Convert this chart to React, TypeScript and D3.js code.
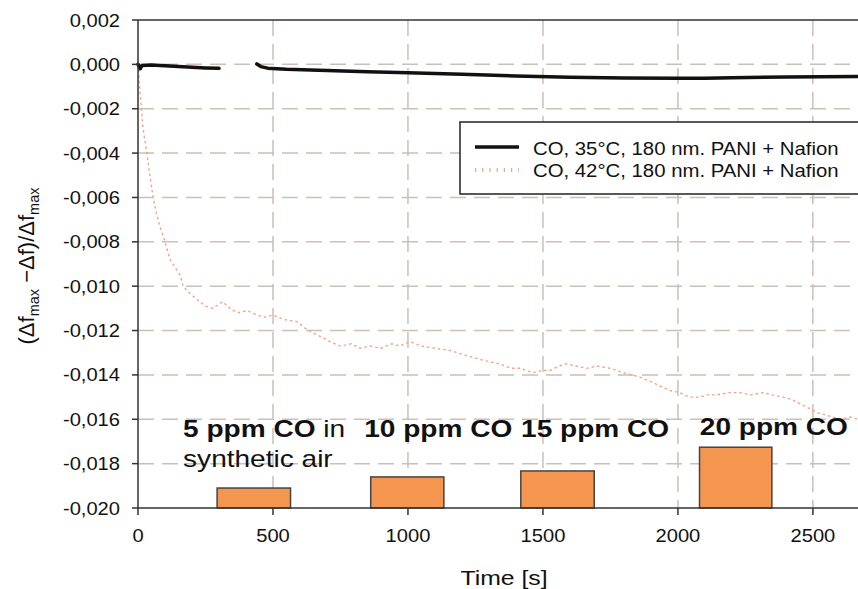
import React from 'react';
import * as d3 from 'd3';

const W = 858;
const H = 589;

// axis ticks
const xTicks = [0, 500, 1000, 1500, 2000, 2500];
const yTicks = [0.002, 0, -0.002, -0.004, -0.006, -0.008, -0.01, -0.012, -0.014, -0.016, -0.018, -0.02];

// CO, 35°C - null = gap in the record
const co35Time = [0, 8, 15, 50, 100, 150, 200, 250, 300, null, 440, 455, 480, 550, 700, 850, 1000, 1200, 1400, 1600, 1800, 2000, 2100, 2200, 2400, 2667];
const co35Value = [0, -0.0002, -0.00005, -0.00003, -0.00006, -0.0001, -0.00013, -0.00016, -0.00018, null, 0.00002, -0.0001, -0.00017, -0.00022, -0.00028, -0.00033, -0.00038, -0.00045, -0.00052, -0.00058, -0.00061, -0.00063, -0.00063, -0.0006, -0.00057, -0.00055];

// CO, 42°C
const co42Time = [0, 3, 7, 12, 18, 25, 33, 44, 56, 68, 81, 100, 119, 140, 156, 167, 190, 219, 250, 278, 300, 315, 340, 370, 404, 440, 470, 500, 540, 589, 620, 648, 680, 711, 750, 790, 822, 860, 900, 940, 970, 1007, 1050, 1100, 1156, 1210, 1267, 1300, 1341, 1380, 1415, 1463, 1500, 1526, 1560, 1589, 1620, 1663, 1700, 1748, 1796, 1830, 1859, 1900, 1933, 1970, 2007, 2040, 2081, 2110, 2144, 2190, 2230, 2270, 2315, 2350, 2389, 2420, 2452, 2485, 2515, 2545, 2574, 2605, 2637, 2667];
const co42Value = [0, -0.0003, -0.0012, -0.0019, -0.0028, -0.0034, -0.004, -0.005, -0.006, -0.0067, -0.0073, -0.008, -0.0088, -0.0092, -0.0095, -0.01, -0.0103, -0.0106, -0.0109, -0.011, -0.0108, -0.0107, -0.011, -0.0112, -0.0111, -0.0113, -0.0114, -0.0113, -0.0115, -0.0116, -0.0119, -0.0121, -0.0123, -0.0125, -0.0127, -0.0126, -0.0128, -0.0127, -0.0128, -0.0126, -0.0127, -0.0125, -0.0127, -0.0128, -0.0129, -0.0131, -0.0133, -0.0134, -0.0135, -0.0137, -0.0137, -0.0139, -0.0138, -0.0138, -0.0136, -0.0135, -0.0136, -0.0137, -0.0136, -0.0137, -0.0139, -0.014, -0.0141, -0.0143, -0.0145, -0.0147, -0.0148, -0.015, -0.015, -0.0149, -0.0149, -0.0148, -0.0148, -0.0149, -0.0148, -0.0149, -0.015, -0.0151, -0.0153, -0.0155, -0.0157, -0.0158, -0.0159, -0.016, -0.0159, -0.016];

// gas exposure pulses
const gasStart = [293, 862, 1418, 2080];
const gasEnd = [565, 1133, 1690, 2348];
const gasBarTop = [-0.0191, -0.0186, -0.01833, -0.01726];
const gasLabels = ['5 ppm CO', '10 ppm CO', '15 ppm CO', '20 ppm CO'];

const legendLabels = ['CO, 35°C, 180 nm. PANI + Nafion', 'CO, 42°C, 180 nm. PANI + Nafion'];

const FONT = '"Liberation Sans", Arial, sans-serif';

// the original figure is stretched sideways a bit, so text gets a scaleX
const Txt = ({ x, y, sx = 1.15, size = 17.5, anchor = 'start', weight = 'normal', children }: any) => (
  <text
    transform={`translate(${x},${y}) scale(${sx},1)`}
    fontFamily={FONT}
    fontSize={size}
    fontWeight={weight}
    textAnchor={anchor}
    fill="#111"
  >
    {children}
  </text>
);

export default function App() {
  const x = d3.scaleLinear().domain([0, 2667]).range([138, 858]);
  const y = d3.scaleLinear().domain([-0.02, 0.002]).range([508, 20]);

  const line = d3.line<[number | null, number | null]>()
    .defined(d => d[0] !== null && d[1] !== null)
    .x(d => x(d[0] as number))
    .y(d => y(d[1] as number));

  const co35 = co35Time.map((t, i) => [t, co35Value[i]] as [number | null, number | null]);
  const co42 = co42Time.map((t, i) => [t, co42Value[i]] as [number | null, number | null]);

  const fmt = (v: number) => v.toFixed(3).replace('.', ',');
  const gridColor = '#cbbfb8';
  const x0 = x(0), x1 = W;

  // label start positions (time units) for the pulse annotations
  const labelAt = [167, 838, 1419, 2081];

  return (
    <svg width={W} height={H} style={{ position: 'absolute', left: 0, top: 0, background: '#fff' }}>
      {/* grid */}
      {yTicks.slice(1, -1).map(v => (
        <line key={'gy' + v} x1={x0} x2={x1} y1={y(v)} y2={y(v)} stroke={gridColor} strokeWidth={1.5} strokeDasharray="16 8" />
      ))}
      {xTicks.slice(1).map(t => (
        <line key={'gx' + t} x1={x(t)} x2={x(t)} y1={y(0.002)} y2={y(-0.02)} stroke={gridColor} strokeWidth={1.5} strokeDasharray="16 8" />
      ))}

      {/* gas pulses */}
      {gasStart.map((s, i) => (
        <rect key={'b' + i} x={x(s)} y={y(gasBarTop[i])} width={x(gasEnd[i]) - x(s)} height={y(-0.02) - y(gasBarTop[i])}
          fill="#f59650" stroke="#444" strokeWidth={1.5} />
      ))}

      {/* curves */}
      <path d={line(co42) || ''} fill="none" stroke="#f4a285" strokeWidth={1.4} strokeDasharray="2.5 3" />
      <path d={line(co35) || ''} fill="none" stroke="#111" strokeWidth={3.5} strokeLinecap="round" strokeLinejoin="round" />

      {/* axes */}
      <line x1={x0} x2={x1} y1={y(0.002)} y2={y(0.002)} stroke="#333" strokeWidth={1.5} />
      <line x1={x0} x2={x1} y1={y(-0.02)} y2={y(-0.02)} stroke="#333" strokeWidth={1.5} />
      <line x1={x0} x2={x0} y1={y(0.002)} y2={y(-0.02)} stroke="#333" strokeWidth={1.5} />
      {yTicks.map(v => (
        <g key={'yt' + v}>
          <line x1={x0 - 6} x2={x0} y1={y(v)} y2={y(v)} stroke="#333" strokeWidth={1.5} />
          <Txt x={120} y={y(v) + 6.5} anchor="end">{fmt(v)}</Txt>
        </g>
      ))}
      {xTicks.map(t => (
        <g key={'xt' + t}>
          <line x1={x(t)} x2={x(t)} y1={y(-0.02)} y2={y(-0.02) + 7} stroke="#333" strokeWidth={1.5} />
          <Txt x={x(t)} y={542} anchor="middle">{t}</Txt>
        </g>
      ))}

      <Txt x={504} y={585} size={21} sx={1.18} anchor="middle">Time [s]</Txt>
      <text transform="translate(34,266) rotate(-90)" fontFamily={FONT} fontSize={22} textAnchor="middle" fill="#111">
        (Δf<tspan fontSize={14.5} dy={5}>max</tspan><tspan dy={-5}> −Δf)/Δf</tspan><tspan fontSize={14.5} dy={5}>max</tspan>
      </text>

      {/* pulse labels */}
      {gasLabels.map((l, i) => (
        <text key={'gl' + i} transform={`translate(${x(labelAt[i])},${i === 3 ? 435 : 437}) scale(1.22,1)`}
          fontFamily={FONT} fontSize={23} fill="#111">
          <tspan fontWeight="bold">{l}</tspan>{i === 0 ? ' in' : ''}
        </text>
      ))}
      <Txt x={x(labelAt[0])} y={467} size={23} sx={1.22}>synthetic air</Txt>

      {/* legend */}
      <rect x={460} y={122} width={420} height={72} fill="#fff" stroke="#222" strokeWidth={1.5} />
      <line x1={475} x2={519} y1={147} y2={147} stroke="#111" strokeWidth={3.5} />
      <line x1={475} x2={519} y1={170} y2={170} stroke="#f4a285" strokeWidth={4} strokeDasharray="1.2 6" />
      <Txt x={533} y={154.5} size={18.5} sx={1.1}>{legendLabels[0]}</Txt>
      <Txt x={533} y={177} size={18.5} sx={1.1}>{legendLabels[1]}</Txt>
    </svg>
  );
}
